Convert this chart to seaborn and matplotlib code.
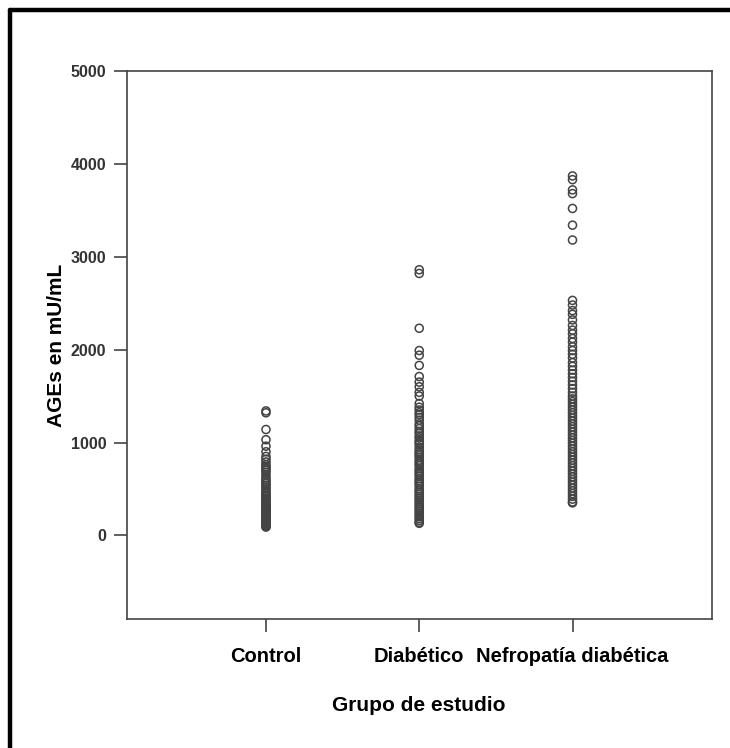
import numpy as np
import pandas as pd
import matplotlib
matplotlib.use("Agg")
import matplotlib.pyplot as plt
import seaborn as sns
from matplotlib.lines import Line2D

categories = ["Control", "Diabético", "Nefropatía diabética"]

control = [1340, 1320, 1140, 1030, 960, 900, 850, 820, 790, 760, 740, 720, 700,
           680, 650, 620, 600, 580, 560, 540, 520, 500, 480, 460, 450, 430, 420,
           400, 390, 380, 360, 350, 340, 330, 320, 310, 300, 290, 280, 270, 260,
           250, 240, 230, 220, 210, 200, 190, 180, 170, 160, 150, 140, 130, 120,
           110, 100, 95, 90]

diabetico = [2860, 2820, 2230, 1990, 1940, 1830, 1710, 1650, 1600, 1540, 1500,
             1420, 1380, 1350, 1320, 1300, 1270, 1240, 1200, 1180, 1150, 1120,
             1100, 1070, 1050, 1020, 1000, 980, 950, 920, 900, 880, 860, 840,
             810, 790, 770, 750, 720, 700, 680, 660, 640, 610, 590, 570, 550,
             530, 500, 480, 460, 440, 420, 400, 380, 360, 340, 320, 300, 280,
             260, 240, 220, 200, 180, 160, 140, 130]

nefropatia = [3870, 3830, 3720, 3680, 3520, 3340, 3180, 2530, 2480, 2420, 2380,
              2320, 2260, 2210, 2170, 2120, 2080, 2030, 1990, 1950, 1910, 1860,
              1820, 1780, 1740, 1700, 1660, 1620, 1580, 1540, 1500, 1470, 1440,
              1410, 1380, 1350, 1320, 1290, 1260, 1230, 1200, 1170, 1140, 1110,
              1080, 1050, 1020, 990, 960, 930, 900, 870, 840, 810, 780, 750, 720,
              690, 660, 630, 600, 570, 540, 510, 480, 450, 420, 390, 360, 350]

y_ticks = [0, 1000, 2000, 3000, 4000, 5000]

df = pd.DataFrame({
    "grupo": [categories[0]] * len(control) + [categories[1]] * len(diabetico)
             + [categories[2]] * len(nefropatia),
    "ages": control + diabetico + nefropatia,
})

sns.set_style("white")
plt.rcParams["font.family"] = ["Liberation Sans", "DejaVu Sans"]
plt.rcParams["text.color"] = "black"

fig = plt.figure(figsize=(7.3, 7.48), dpi=100)
ax = fig.add_axes([0.1733, 0.1725, 0.9753 - 0.1733, 0.9051 - 0.1725])

sns.stripplot(data=df, x="grupo", y="ages", order=categories, jitter=False,
              size=5.8, linewidth=1.1, edgecolor="#444444", facecolor="none",
              ax=ax)
for coll in ax.collections:
    coll.set_facecolor("none")
    coll.set_edgecolor("#444444")

ax.set_xlim(-0.91, 2.91)
ax.set_ylim(-900, 5000)
ax.set_yticks(y_ticks)
ax.set_yticklabels([str(v) for v in y_ticks], fontsize=11.5, fontweight="bold",
                   color="#333333")
ax.set_xticks(range(len(categories)))
ax.set_xticklabels(categories, fontsize=14.5, fontweight="bold", color="black")

for s in ax.spines.values():
    s.set_visible(True)
    s.set_color("#444444")
    s.set_linewidth(1.2)

ax.tick_params(axis="y", direction="out", length=9.5, width=1.2, color="#444444",
               pad=5, left=True)
ax.tick_params(axis="x", direction="out", length=9, width=1.2, color="#444444",
               pad=11, bottom=True)

ax.set_xlabel("Grupo de estudio", fontsize=15, fontweight="bold", labelpad=22,
              color="black")
ax.set_ylabel("AGEs en mU/mL", fontsize=15, fontweight="bold", color="black")
ax.yaxis.set_label_coords(-0.104, 0.5)

# outer frame (top and left edges visible)
fig.add_artist(Line2D([10 / 730, 1.0], [1 - 10 / 748, 1 - 10 / 748],
                      transform=fig.transFigure, color="black", linewidth=3.2))
fig.add_artist(Line2D([10 / 730, 10 / 730], [0.0, 1 - 10 / 748],
                      transform=fig.transFigure, color="black", linewidth=3.2))

fig.savefig("out.png", dpi=100, facecolor="white")
